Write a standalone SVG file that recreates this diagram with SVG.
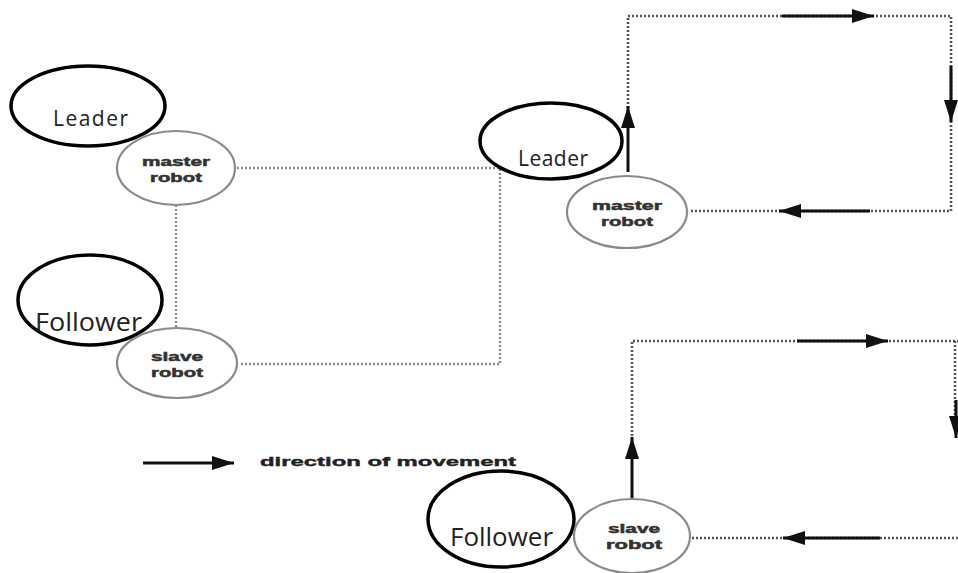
<svg xmlns="http://www.w3.org/2000/svg" width="958" height="573" viewBox="0 0 958 573">
<style>
.lbl{fill:none;stroke:#000;stroke-width:3.5}
.rob{fill:#fff;stroke:#8a8a8a;stroke-width:2.2}
.big{font-family:"Open Sans","Liberation Sans",sans-serif;fill:#222}
.rt{font-family:"Liberation Sans",Arial,sans-serif;font-weight:bold;font-size:12.5px;fill:#333;stroke:#333;stroke-width:0.5;text-anchor:middle}
.dot{fill:none;stroke:#555;stroke-width:2.6;stroke-dasharray:2 2}
.dotg{fill:none;stroke:#888;stroke-width:2.4;stroke-dasharray:2 2}
.arr{fill:none;stroke:#111;stroke-width:3;marker-end:url(#ah)}
</style>
<defs>
<marker id="ah" markerUnits="userSpaceOnUse" markerWidth="24" markerHeight="14" refX="22" refY="7" orient="auto">
<path d="M0,0 L22,7 L0,14 Z" fill="#111"/>
</marker>
</defs>
<rect width="958" height="573" fill="#fff"/>
<g id="connectors">
<path class="dotg" d="M176,205 V328"/>
<path class="dotg" d="M237,168 H500 V364 H240"/>
<path class="dot" d="M628,108 V16 H951 V211 H690"/>
<path class="dot" d="M632,440 V341 H958"/>
<path class="dot" d="M958,538 H692"/>
<path class="dot" d="M955,341 V420"/>
<line class="arr" x1="628" y1="172" x2="628" y2="106"/>
<line class="arr" x1="782" y1="16" x2="874" y2="16"/>
<line class="arr" x1="951" y1="66" x2="951" y2="122"/>
<line class="arr" x1="870" y1="211" x2="779" y2="211"/>
<line class="arr" x1="632" y1="500" x2="632" y2="437"/>
<line class="arr" x1="797" y1="341" x2="888" y2="341"/>
<line class="arr" x1="880" y1="538" x2="783" y2="538"/>
<line class="arr" x1="956" y1="400" x2="956" y2="438"/>
<line class="arr" x1="143" y1="463" x2="234" y2="463"/>
</g>
<g id="leader-left">
<ellipse class="lbl" cx="88" cy="106" rx="77" ry="40"/>
<text class="big" x="53" y="126" font-size="21" textLength="75" lengthAdjust="spacing">Leader</text>
</g>
<g id="master-left">
<ellipse class="rob" cx="176" cy="168" rx="59" ry="37"/>
<text class="rt" x="176" y="166" textLength="68" lengthAdjust="spacingAndGlyphs">master</text>
<text class="rt" x="176" y="182" textLength="52" lengthAdjust="spacingAndGlyphs">robot</text>
</g>
<g id="follower-left">
<ellipse class="lbl" cx="90" cy="300" rx="72" ry="45"/>
<text class="big" x="35" y="331" font-size="26" textLength="107" lengthAdjust="spacingAndGlyphs">Follower</text>
</g>
<g id="slave-left">
<ellipse class="rob" cx="177" cy="363" rx="60" ry="35"/>
<text class="rt" x="177" y="361" textLength="52" lengthAdjust="spacingAndGlyphs">slave</text>
<text class="rt" x="177" y="377" textLength="52" lengthAdjust="spacingAndGlyphs">robot</text>
</g>
<g id="leader-right">
<ellipse class="lbl" cx="551" cy="141" rx="71" ry="38"/>
<text class="big" x="518" y="166" font-size="21" textLength="70" lengthAdjust="spacing">Leader</text>
</g>
<g id="master-right">
<ellipse class="rob" cx="627" cy="212" rx="60" ry="36"/>
<text class="rt" x="627" y="210" textLength="70" lengthAdjust="spacingAndGlyphs">master</text>
<text class="rt" x="627" y="226" textLength="52" lengthAdjust="spacingAndGlyphs">robot</text>
</g>
<g id="follower-right">
<ellipse class="lbl" cx="501" cy="519" rx="73" ry="48"/>
<text class="big" x="450" y="546" font-size="26" textLength="103" lengthAdjust="spacingAndGlyphs">Follower</text>
</g>
<g id="slave-right">
<ellipse class="rob" cx="632" cy="536" rx="58" ry="37"/>
<text class="rt" x="634" y="533" textLength="52" lengthAdjust="spacingAndGlyphs">slave</text>
<text class="rt" x="634" y="549" textLength="56" lengthAdjust="spacingAndGlyphs">robot</text>
</g>
<g id="legend">
<text x="260" y="466" font-family="Liberation Sans,Arial,sans-serif" font-weight="bold" font-size="13" fill="#222" stroke="#222" stroke-width="0.4" textLength="256" lengthAdjust="spacingAndGlyphs">direction of movement</text>
</g>
</svg>
